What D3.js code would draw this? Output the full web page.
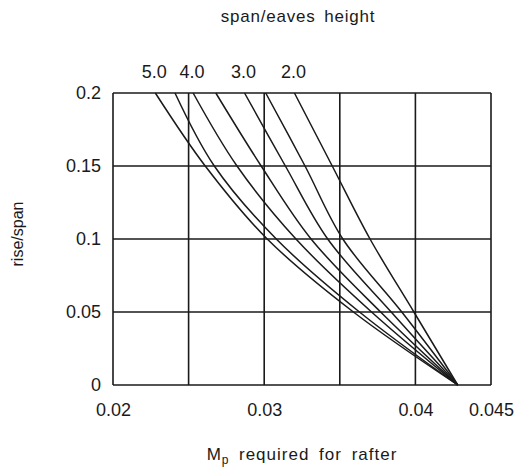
<!DOCTYPE html>
<html>
<head>
<meta charset="utf-8">
<script src="https://cdn.jsdelivr.net/npm/d3@7"></script>
<style>
  body { margin: 0; background: #fff; }
  svg text { font-family: "Liberation Sans", Arial, sans-serif; fill: #1a1a1a; }
</style>
</head>
<body>
<svg id="chart" width="520" height="471"></svg>
<script>
// rise/span levels read at the grid lines
const riseLevels = [0.2, 0.15, 0.1, 0.05, 0];
// span/eaves height ratios, one curve each (only whole ones are labelled)
const ratios = [5.0, 4.5, 4.0, 3.5, 3.0, 2.5, 2.0];
// Mp required for rafter, per ratio, at each rise level
const mp50 = [0.0228, 0.0261, 0.0302, 0.0359, 0.0428];
const mp45 = [0.0241, 0.0267, 0.0308, 0.0363, 0.0428];
const mp40 = [0.0253, 0.0282, 0.0321, 0.0371, 0.0428];
const mp35 = [0.0268, 0.0298, 0.0331, 0.0377, 0.0428];
const mp30 = [0.0287, 0.0314, 0.0342, 0.0384, 0.0428];
const mp25 = [0.0301, 0.0327, 0.0352, 0.0391, 0.0428];
const mp20 = [0.0320, 0.0345, 0.0370, 0.0399, 0.0428];
const mpSeries = [mp50, mp45, mp40, mp35, mp30, mp25, mp20];

const xTicks = [0.02, 0.03, 0.04, 0.045];
const xGrid = [0.02, 0.025, 0.03, 0.035, 0.04, 0.045];
const yTicks = [0, 0.05, 0.1, 0.15, 0.2];
const topLabels = ["5.0", "4.0", "3.0", "2.0"];

const svg = d3.select("#chart");
const margin = { top: 93, left: 113 };
const innerW = 378, innerH = 292;
const g = svg.append("g").attr("transform", `translate(${margin.left},${margin.top})`);

const x = d3.scaleLinear().domain([0.02, 0.045]).range([0, innerW]);
const y = d3.scaleLinear().domain([0, 0.2]).range([innerH, 0]);
const ink = "#1a1a1a";

// grid
g.selectAll("line.vg").data(xGrid).join("line")
  .attr("x1", d => x(d)).attr("x2", d => x(d))
  .attr("y1", 0).attr("y2", innerH)
  .attr("stroke", ink).attr("stroke-width", 1.6);
g.selectAll("line.hg").data(yTicks).join("line")
  .attr("class", "hg")
  .attr("x1", 0).attr("x2", innerW)
  .attr("y1", d => y(d)).attr("y2", d => y(d))
  .attr("stroke", ink).attr("stroke-width", 1.6);

// axes (labels only, grid already draws the frame)
const xAxis = g.append("g").attr("transform", `translate(0,${innerH})`)
  .call(d3.axisBottom(x).tickValues(xTicks).tickSize(0).tickPadding(18)
    .tickFormat(d => String(+d.toFixed(3))));
const yAxis = g.append("g")
  .call(d3.axisLeft(y).tickValues(yTicks).tickSize(0).tickPadding(12)
    .tickFormat(d => String(+d.toFixed(2))));
[xAxis, yAxis].forEach(a => {
  a.select(".domain").remove();
  a.selectAll("text").attr("font-size", 18)
    .attr("font-family", "Liberation Sans, Arial, sans-serif").attr("fill", ink);
});

// curves
const line = d3.line()
  .x(d => x(d[0]))
  .y(d => y(d[1]))
  .curve(d3.curveCatmullRom.alpha(0.5));

g.selectAll("path.curve")
  .data(mpSeries.map(s => s.map((v, i) => [v, riseLevels[i]])))
  .join("path")
  .attr("class", "curve")
  .attr("d", line)
  .attr("fill", "none")
  .attr("stroke", ink)
  .attr("stroke-width", 1.5);

// ratio labels above the curves that have them
const labelled = topLabels.map(t => ({ t, v: mpSeries[ratios.indexOf(+t)][0] }));
g.selectAll("text.ratio").data(labelled).join("text")
  .attr("class", "ratio")
  .attr("x", d => x(d.v) - 1)
  .attr("y", -15)
  .attr("text-anchor", "middle")
  .attr("font-size", 18)
  .text(d => d.t);

// titles
svg.append("text")
  .attr("x", 298).attr("y", 22)
  .attr("text-anchor", "middle").attr("font-size", 17)
  .attr("letter-spacing", 0.8).attr("word-spacing", 3)
  .text("span/eaves height");

svg.append("text")
  .attr("transform", "translate(23,234) rotate(-90)")
  .attr("text-anchor", "middle").attr("font-size", 16)
  .text("rise/span");

const xt = svg.append("text")
  .attr("x", 302).attr("y", 460)
  .attr("text-anchor", "middle").attr("font-size", 17)
  .attr("letter-spacing", 1).attr("word-spacing", 4);
xt.append("tspan").text("M");
xt.append("tspan").attr("dy", 4).attr("font-size", 12).text("p");
xt.append("tspan").attr("dy", -4).text("\u2002required for rafter");
</script>
</body>
</html>
